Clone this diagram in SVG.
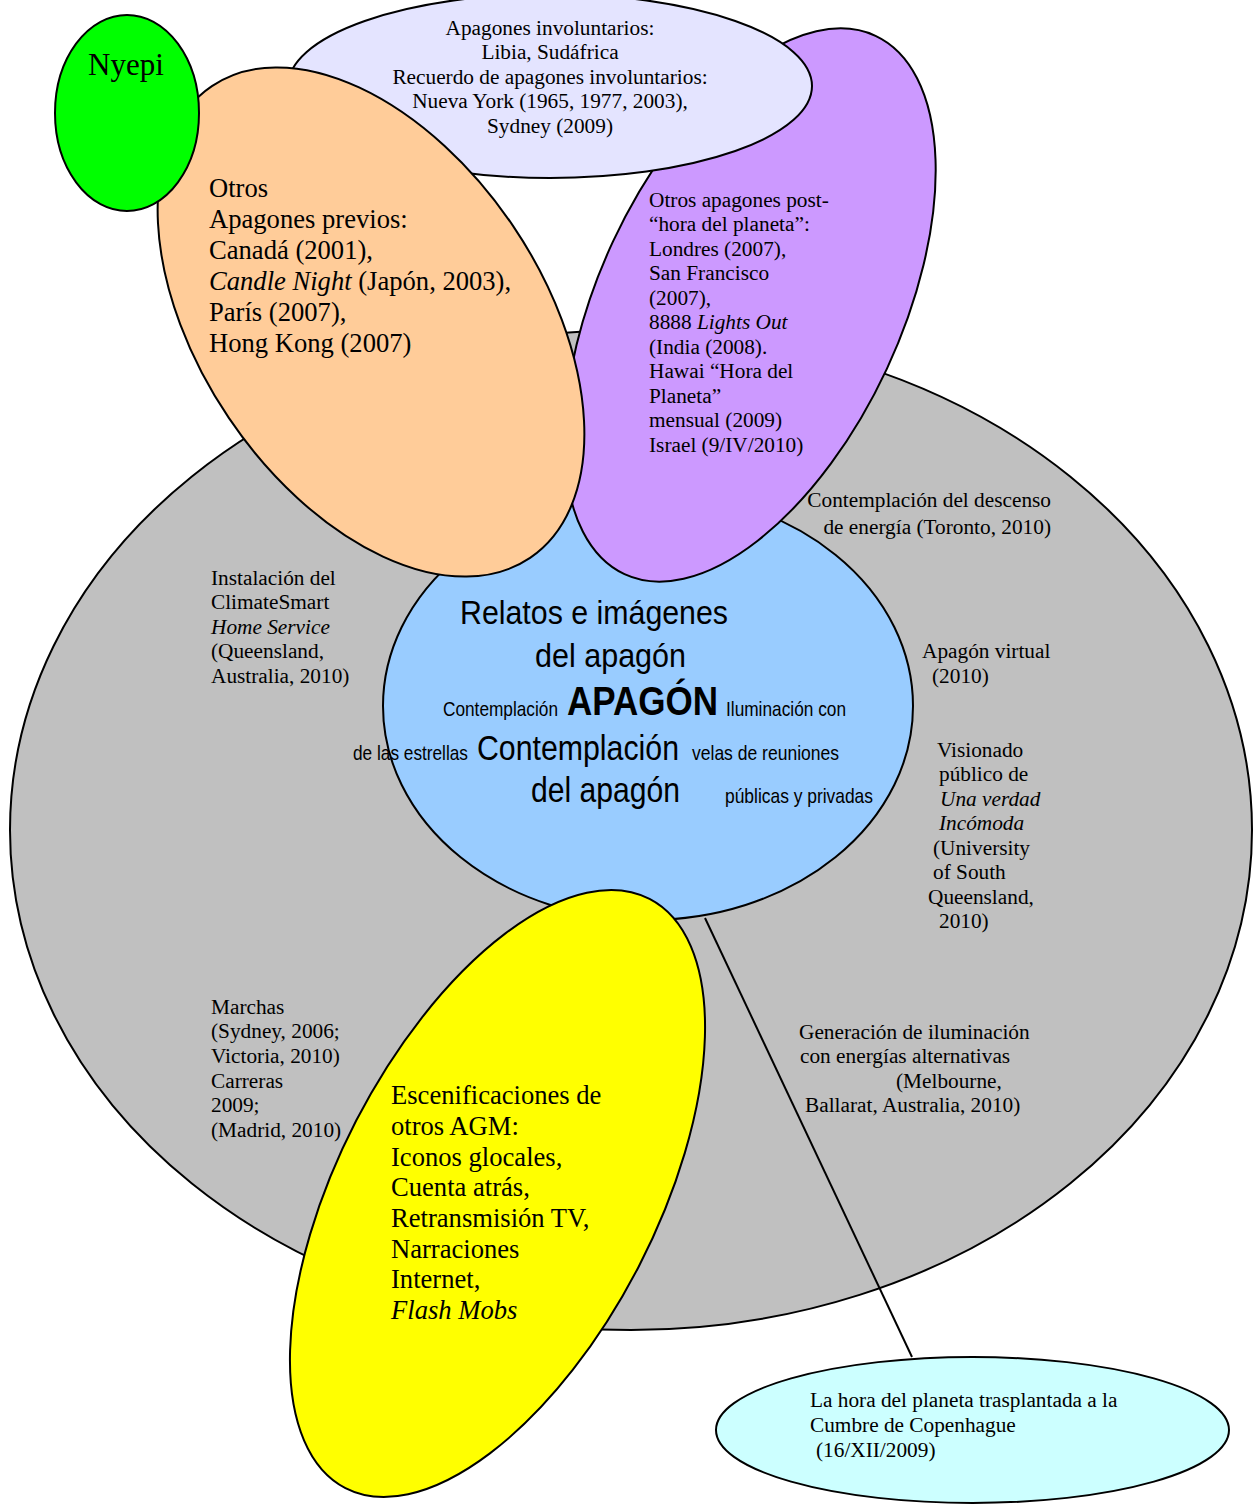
<svg xmlns="http://www.w3.org/2000/svg" width="1256" height="1505" viewBox="0 0 1256 1505">
<style>
.sh{stroke:#000;stroke-width:2}
.s{font-family:"Liberation Serif","Times New Roman",serif;fill:#000}
.f21{font-size:21.3px}
.f26{font-size:26.6px}
.c{text-anchor:middle}
.e{text-anchor:end}
.i{font-style:italic}
.a{font-family:"Liberation Sans",Arial,sans-serif;fill:#000}
</style>
<rect width="1256" height="1505" fill="#fff"/>
<g id="grey">
<ellipse class="sh" cx="631" cy="830" rx="621" ry="500" fill="#c0c0c0"/>
<g class="s f21">
<text x="211" y="585">Instalación del</text>
<text x="211" y="609">ClimateSmart</text>
<text x="211" y="634" class="i">Home Service</text>
<text x="211" y="658">(Queensland,</text>
<text x="211" y="683">Australia, 2010)</text>
<text x="211" y="1014">Marchas</text>
<text x="211" y="1038">(Sydney, 2006;</text>
<text x="211" y="1063">Victoria, 2010)</text>
<text x="211" y="1088">Carreras</text>
<text x="211" y="1112">2009;</text>
<text x="211" y="1137">(Madrid, 2010)</text>
<text x="1051" y="507" class="e">Contemplación del descenso</text>
<text x="1051" y="534" class="e">de energía (Toronto, 2010)</text>
<text x="922" y="658">Apagón virtual</text>
<text x="932" y="683">(2010)</text>
<text x="937" y="757">Visionado</text>
<text x="939" y="781">público de</text>
<text x="940" y="806" class="i">Una verdad</text>
<text x="939" y="830" class="i">Incómoda</text>
<text x="933" y="855">(University</text>
<text x="933" y="879">of South</text>
<text x="928" y="904">Queensland,</text>
<text x="939" y="928">2010)</text>
<text x="799" y="1039">Generación de iluminación</text>
<text x="800" y="1063">con energías alternativas</text>
<text x="896" y="1088">(Melbourne,</text>
<text x="805" y="1112">Ballarat, Australia, 2010)</text>
</g>
</g>
<g id="blue">
<ellipse class="sh" cx="648" cy="706" rx="265" ry="214" fill="#99ccff"/>
<g class="a">
<text x="460" y="624" font-size="33" textLength="268" lengthAdjust="spacingAndGlyphs">Relatos e imágenes</text>
<text x="535" y="667" font-size="33" textLength="151" lengthAdjust="spacingAndGlyphs">del apagón</text>
<text x="443" y="716" font-size="21" textLength="115" lengthAdjust="spacingAndGlyphs">Contemplación</text>
<text x="567" y="715" font-size="40" font-weight="bold" textLength="151" lengthAdjust="spacingAndGlyphs">APAGÓN</text>
<text x="726" y="716" font-size="21" textLength="120" lengthAdjust="spacingAndGlyphs">Iluminación con</text>
<text x="353" y="760" font-size="21" textLength="115" lengthAdjust="spacingAndGlyphs">de las estrellas</text>
<text x="477" y="760" font-size="35" textLength="202" lengthAdjust="spacingAndGlyphs">Contemplación</text>
<text x="692" y="760" font-size="21" textLength="147" lengthAdjust="spacingAndGlyphs">velas de reuniones</text>
<text x="531" y="802" font-size="35" textLength="149" lengthAdjust="spacingAndGlyphs">del apagón</text>
<text x="725" y="803" font-size="21" textLength="148" lengthAdjust="spacingAndGlyphs">públicas y privadas</text>
</g>
</g>
<g id="connectors">
<line x1="705" y1="918" x2="912" y2="1357" stroke="#000" stroke-width="2"/>
</g>
<g id="purple">
<ellipse class="sh" cx="750" cy="305" rx="297" ry="151" transform="rotate(-65 750 305)" fill="#cc99ff"/>
<g class="s f21">
<text x="649" y="207">Otros apagones post-</text>
<text x="649" y="231">“hora del planeta”:</text>
<text x="649" y="256">Londres (2007),</text>
<text x="649" y="280">San Francisco</text>
<text x="649" y="305">(2007),</text>
<text x="649" y="329">8888 <tspan class="i">Lights Out</tspan></text>
<text x="649" y="354">(India (2008).</text>
<text x="649" y="378">Hawai “Hora del</text>
<text x="649" y="403">Planeta”</text>
<text x="649" y="427">mensual (2009)</text>
<text x="649" y="452">Israel (9/IV/2010)</text>
</g>
</g>
<g id="lavender">
<ellipse class="sh" cx="550" cy="86" rx="262" ry="92" fill="#e4e4ff"/>
<g class="s f21 c">
<text x="550" y="35">Apagones involuntarios:</text>
<text x="550" y="59">Libia, Sudáfrica</text>
<text x="550" y="84">Recuerdo de apagones involuntarios:</text>
<text x="550" y="108">Nueva York (1965, 1977, 2003),</text>
<text x="550" y="133">Sydney (2009)</text>
</g>
</g>
<g id="orange">
<ellipse class="sh" cx="371" cy="322" rx="284.5" ry="171.5" transform="rotate(56 371 322)" fill="#ffcc99"/>
<g class="s f26">
<text x="209" y="197">Otros</text>
<text x="209" y="228">Apagones previos:</text>
<text x="209" y="259">Canadá (2001),</text>
<text x="209" y="290"><tspan class="i">Candle Night</tspan> (Japón, 2003),</text>
<text x="209" y="321">París (2007),</text>
<text x="209" y="352">Hong Kong (2007)</text>
</g>
</g>
<g id="nyepi">
<ellipse class="sh" cx="127" cy="113" rx="72" ry="98" fill="#00ff00"/>
<text x="126" y="75" class="s c" font-size="31">Nyepi</text>
</g>
<g id="yellow">
<ellipse class="sh" cx="497.5" cy="1193.5" rx="331.5" ry="159" transform="rotate(-62.7 497.5 1193.5)" fill="#ffff00"/>
<g class="s f26">
<text x="391" y="1104">Escenificaciones de</text>
<text x="391" y="1135">otros AGM:</text>
<text x="391" y="1166">Iconos glocales,</text>
<text x="391" y="1196">Cuenta atrás,</text>
<text x="391" y="1227">Retransmisión TV,</text>
<text x="391" y="1258">Narraciones</text>
<text x="391" y="1288">Internet,</text>
<text x="391" y="1319" class="i">Flash Mobs</text>
</g>
</g>
<g id="cyan">
<ellipse class="sh" cx="972.5" cy="1430" rx="256.5" ry="73" fill="#ccffff"/>
<g class="s f21">
<text x="810" y="1407">La hora del planeta trasplantada a la</text>
<text x="810" y="1432">Cumbre de Copenhague</text>
<text x="816" y="1457">(16/XII/2009)</text>
</g>
</g>
</svg>
